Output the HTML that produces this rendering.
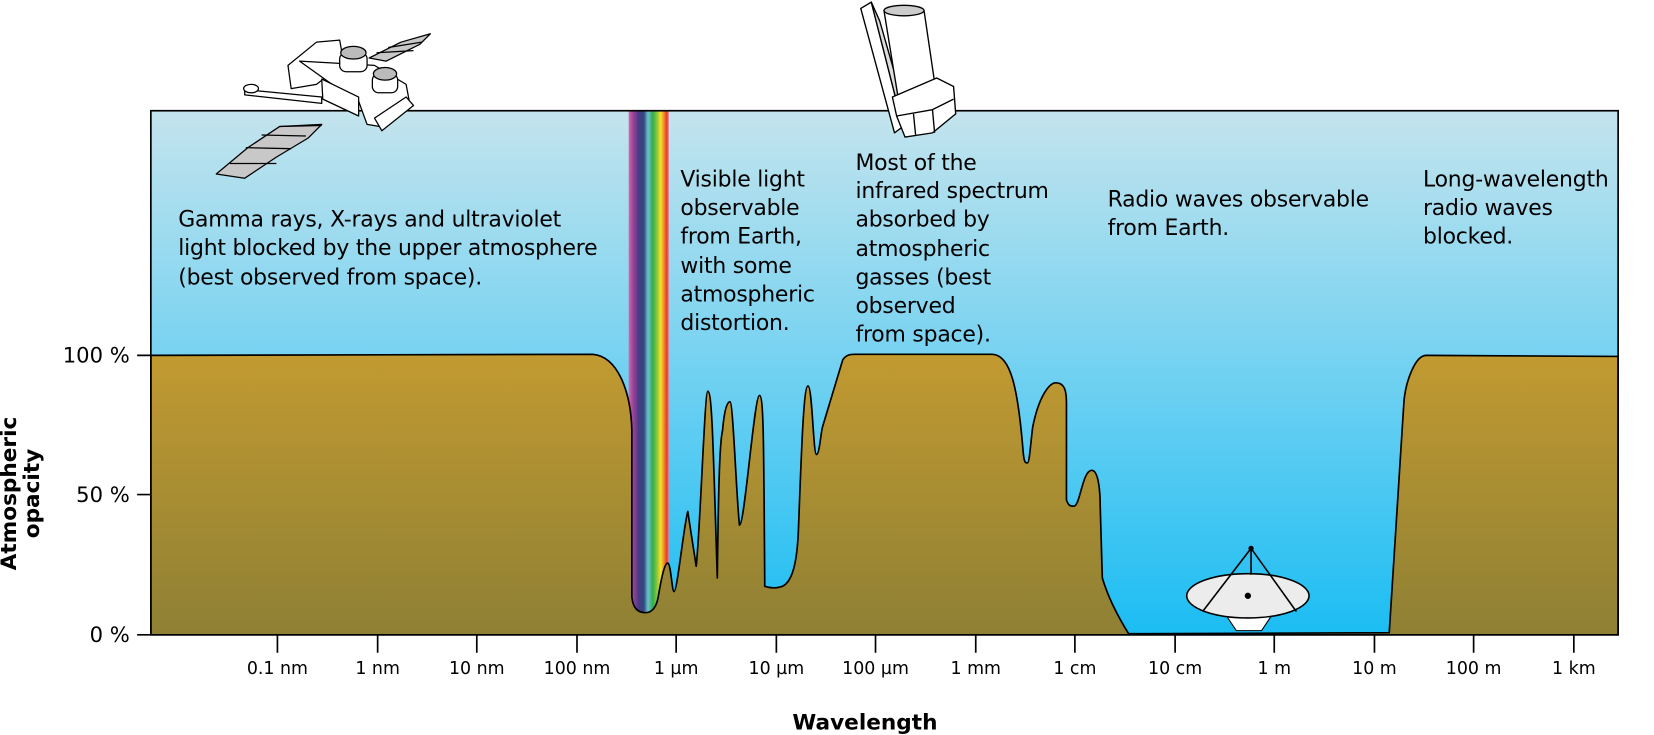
<!DOCTYPE html>
<html><head><meta charset="utf-8"><style>
html,body{margin:0;padding:0;background:#fff;}
svg{display:block;}
text{font-family:"DejaVu Sans","Liberation Sans",sans-serif;fill:#000;}
</style></head><body>
<svg width="1654" height="735" viewBox="0 0 1568 697" preserveAspectRatio="none" xmlns="http://www.w3.org/2000/svg">
<defs>
<linearGradient id="sky" x1="0" y1="0" x2="0" y2="1">
<stop offset="0" stop-color="#c4e4ed"/><stop offset="0.45" stop-color="#7ad3f1"/><stop offset="1" stop-color="#1bbdf3"/>
</linearGradient>
<linearGradient id="gnd" x1="0" y1="336" x2="0" y2="602" gradientUnits="userSpaceOnUse">
<stop offset="0" stop-color="#c29a31"/><stop offset="1" stop-color="#8e8034"/>
</linearGradient>
<linearGradient id="rb" x1="0" y1="0" x2="1" y2="0">
<stop offset="0" stop-color="#d36aa8"/><stop offset="0.1" stop-color="#a0469a"/><stop offset="0.25" stop-color="#4a3a86"/>
<stop offset="0.38" stop-color="#2e4a7e"/><stop offset="0.48" stop-color="#6fbfd0"/><stop offset="0.6" stop-color="#2fb04a"/>
<stop offset="0.72" stop-color="#9cc83a"/><stop offset="0.8" stop-color="#f5e22a"/><stop offset="0.88" stop-color="#f08a2a"/>
<stop offset="0.95" stop-color="#e63a2a"/><stop offset="1" stop-color="#e97a9a"/>
</linearGradient>
</defs>
<rect x="143" y="105" width="1391" height="497" fill="url(#sky)"/>
<rect x="596" y="105" width="38" height="480" fill="url(#rb)"/>
<path d="M143,337 L562,336 C585,338 598,370 599,408 L599,566 C600,578 606,581 612,581 C620,581 623,572 624,566 C627,548 630,534 633,534 C636,534 637,561 639,561 C642,561 648,500 652,485 L660,537 C664,500 668,371 671,371 C675,371 676,420 680,548 C681,470 682,420 685,408 C687,385 690,381 692,381 C695,381 698,470 701,498 C706,498 715,375 720,375 C724,375 724,420 725,556 C728,557 733,558 738,557 C752,556 756,530 757,500 C760,420 762,366 766,366 C770,366 771,431 774,431 C777,431 778,410 780,404 L799,341 C802,337 805,336 810,336 L941,336 C958,337 965,367 970,429 C971,439 972,439 974,439 C976,439 977,420 979,405 C985,375 995,363 1001,363 C1009,363 1011,370 1011,382 L1011,474 C1013,480 1015,480 1018,480 C1024,480 1026,446 1035,446 C1042,446 1043,470 1043,480 L1045,548 C1050,565 1060,585 1070,601 L1317,600 L1331,380 C1333,360 1342,337 1352,337 L1534,338 L1534,602 L143,602 Z" fill="url(#gnd)" stroke="#000" stroke-width="1.6" stroke-linejoin="round"/>
<rect x="143" y="105" width="1391" height="497" fill="none" stroke="#000" stroke-width="1.6"/>
<!-- dish -->
<path d="M1160,580 L1172,598 L1196,598 L1208,580 Z" fill="#fff" stroke="#000" stroke-width="1"/>
<ellipse cx="1183" cy="565" rx="58" ry="21" fill="#ececec" stroke="#000" stroke-width="1.5"/>
<path d="M1140,580 L1186,520 L1229,580 M1186,520 L1186,545" fill="none" stroke="#000" stroke-width="1.5"/>
<circle cx="1186" cy="520" r="2.5"/><circle cx="1183" cy="565" r="3"/>
<!-- axes ticks -->
<g stroke="#000" stroke-width="1.6">
<path d="M130,337H143M130,469H143M130,602H143"/>
<path d="M263,602V619M358,602V619M452,602V619M547,602V619M641,602V619M736,602V619M830,602V619M925,602V619M1019,602V619M1114,602V619M1208,602V619M1303,602V619M1397,602V619M1492,602V619"/>
</g>
<g font-size="20" text-anchor="end">
<text x="123" y="344">100 %</text><text x="123" y="476">50 %</text><text x="123" y="609">0 %</text>
</g>
<g font-size="16.5" text-anchor="middle">
<text x="263" y="639">0.1 nm</text><text x="358" y="639">1 nm</text><text x="452" y="639">10 nm</text><text x="547" y="639">100 nm</text>
<text x="641" y="639">1 µm</text><text x="736" y="639">10 µm</text><text x="830" y="639">100 µm</text><text x="925" y="639">1 mm</text>
<text x="1019" y="639">1 cm</text><text x="1114" y="639">10 cm</text><text x="1208" y="639">1 m</text><text x="1303" y="639">10 m</text>
<text x="1397" y="639">100 m</text><text x="1492" y="639">1 km</text>
</g>
<text x="820" y="692" font-size="20.5" font-weight="bold" text-anchor="middle">Wavelength</text>
<g transform="translate(15,468) rotate(-90)" font-size="20.5" font-weight="bold" text-anchor="middle">
<text x="0" y="0">Atmospheric</text><text x="0" y="22">opacity</text></g>
<g font-size="20.8" letter-spacing="-0.2">
<text x="169" y="215">Gamma rays, X-rays and ultraviolet</text>
<text x="169" y="242">light blocked by the upper atmosphere</text>
<text x="169" y="270">(best observed from space).</text>
<text x="645" y="177">Visible light</text><text x="645" y="204">observable</text><text x="645" y="231">from Earth,</text>
<text x="645" y="259">with some</text><text x="645" y="286">atmospheric</text><text x="645" y="313">distortion.</text>
<text x="811" y="161">Most of the</text><text x="811" y="188">infrared spectrum</text><text x="811" y="215">absorbed by</text>
<text x="811" y="243">atmospheric</text><text x="811" y="270">gasses (best</text><text x="811" y="297">observed</text><text x="811" y="324">from space).</text>
<text x="1050" y="196">Radio waves observable</text><text x="1050" y="223">from Earth.</text>
<text x="1349" y="177">Long-wavelength</text><text x="1349" y="204">radio waves</text><text x="1349" y="231">blocked.</text>
</g>
<!-- telescope -->
<g stroke="#000" stroke-width="1.3" fill="#fff" stroke-linejoin="round">
<path d="M816,8 L826,2 L856,120 L848,126 Z"/>
<path d="M826,2 L834,20 L862,118 L856,120 Z" fill="#ddd"/>
<path d="M838,10 L876,10 L886,78 L852,96 Z"/>
<ellipse cx="857" cy="10" rx="19" ry="5" fill="#ccc"/>
<path d="M846,92 L888,74 L904,82 L906,108 L884,126 L858,130 L850,110 Z"/>
<path d="M850,110 L884,104 L904,94 M884,104 L886,126 M866,108 L868,128"/>
</g>
<!-- satellite -->
<g stroke="#000" stroke-width="1.2" fill="#fff" stroke-linejoin="round">
<path d="M205,165 L235,140 L265,120 L305,118 L292,131 L262,149 L232,169 Z" fill="#c8c8c8"/>
<path d="M218,155 L262,155 M233,140 L276,141 M248,128 L290,129 M265,120 L305,119"/>
<path d="M350,55 L380,40 L408,32 L398,42 L366,58 Z" fill="#c8c8c8"/>
<path d="M357,50 L392,48 M368,45 L400,40"/>
<path d="M232,85 L305,92 L305,98 L232,90 Z"/>
<ellipse cx="238" cy="84" rx="7" ry="4"/>
<path d="M273,62 L300,40 L322,38 L326,60 L300,80 L276,84 Z"/>
<path d="M284,58 L312,78 L340,96 L348,118 L360,120 L388,96 L385,80 L355,62 L320,60 Z"/>
<path d="M305,75 L340,92 L340,110 L306,94 Z"/>
<rect x="322" y="50" width="26" height="18" rx="6"/><ellipse cx="335" cy="50" rx="12" ry="6" fill="#bbb"/>
<rect x="353" y="70" width="24" height="18" rx="6"/><ellipse cx="365" cy="70" rx="11" ry="6" fill="#bbb"/>
<path d="M355,112 L385,92 L392,100 L362,124 Z"/>
</g>
</svg>
</body></html>
